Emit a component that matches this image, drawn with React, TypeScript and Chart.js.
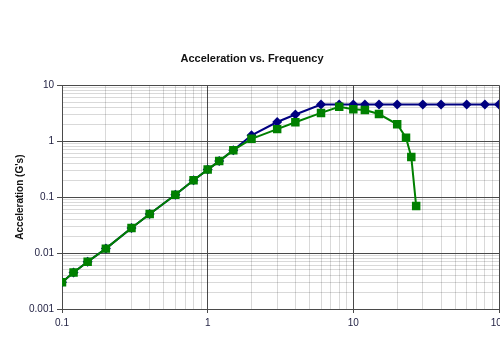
import React, { useEffect, useRef } from 'react';
import { Chart, registerables } from 'chart.js';

Chart.register(...registerables);

const blueFreq = [0.1, 0.12, 0.15, 0.2, 0.3, 0.4, 0.6, 0.8, 1, 1.2, 1.5, 2, 3, 4, 6, 8, 10, 12, 15, 20, 30, 40, 60, 80, 100];
const blueAccel = [0.003, 0.0045, 0.007, 0.012, 0.028, 0.05, 0.11, 0.2, 0.31, 0.44, 0.69, 1.27, 2.2, 3.0, 4.5, 4.5, 4.5, 4.5, 4.5, 4.5, 4.5, 4.5, 4.5, 4.5, 4.5];

const greenFreq = [0.1, 0.12, 0.15, 0.2, 0.3, 0.4, 0.6, 0.8, 1, 1.2, 1.5, 2, 3, 4, 6, 8, 10, 12, 15, 20, 23, 25, 27];
const greenAccel = [0.003, 0.0045, 0.007, 0.012, 0.028, 0.05, 0.11, 0.2, 0.31, 0.44, 0.69, 1.1, 1.64, 2.18, 3.2, 4.1, 3.7, 3.6, 3.05, 2.0, 1.15, 0.52, 0.069];

const xTickLabels = ['0.1', '1', '10', '100'];
const yTickLabels = ['0.001', '0.01', '0.1', '1', '10'];
const minorSteps = [1, 2, 3, 4, 5, 6, 7, 8, 9];

const FONT = "'Liberation Sans', Arial, sans-serif";
const CANVAS_W = 505;

function decadeTicks(minExp: number, maxExp: number) {
  const ticks: { value: number; major: boolean }[] = [];
  for (let e = minExp; e < maxExp; e++) {
    for (const m of minorSteps) {
      ticks.push({ value: parseFloat((m * Math.pow(10, e)).toPrecision(6)), major: m === 1 });
    }
  }
  ticks.push({ value: Math.pow(10, maxExp), major: true });
  return ticks;
}

function isDecade(v: number) {
  const l = Math.log10(v);
  return Math.abs(l - Math.round(l)) < 1e-6;
}

const majorColor = '#4a4a4a';
const minorColor = 'rgba(0,0,0,0.15)';

export default function App() {
  const ref = useRef<HTMLCanvasElement | null>(null);

  useEffect(() => {
    if (!ref.current) return;
    const chart = new Chart(ref.current, {
      type: 'scatter',
      data: {
        datasets: [
          {
            label: 'Green',
            data: greenFreq.map((x, i) => ({ x, y: greenAccel[i] })),
            showLine: true,
            borderColor: '#008000',
            backgroundColor: '#008000',
            borderWidth: 2,
            pointStyle: 'rect',
            pointRadius: 6,
            pointBorderWidth: 0,
            order: 0,
          },
          {
            label: 'Blue',
            data: blueFreq.map((x, i) => ({ x, y: blueAccel[i] })),
            showLine: true,
            borderColor: '#000080',
            backgroundColor: '#000080',
            borderWidth: 2,
            pointStyle: 'rectRot',
            pointRadius: 5,
            pointBorderWidth: 0,
            order: 1,
          },
        ],
      },
      options: {
        responsive: false,
        animation: false,
        layout: { padding: { left: 0, right: 1, top: 0, bottom: 0 } },
        plugins: {
          legend: { display: false },
          tooltip: { enabled: false },
          title: {
            display: true,
            text: 'Acceleration vs. Frequency',
            color: '#111',
            font: { family: FONT, size: 11, weight: 'bold' },
            padding: { top: 52, bottom: 20 },
          },
        },
        scales: {
          x: {
            type: 'logarithmic',
            min: 0.1,
            max: 100,
            afterBuildTicks: (s: any) => {
              s.ticks = decadeTicks(-1, 2);
            },
            afterFit: (s: any) => {
              s.paddingLeft = 0;
              s.paddingRight = 0;
              s.height = 41;
            },
            ticks: {
              autoSkip: false,
              maxRotation: 0,
              padding: 4,
              color: '#1e1e40',
              font: { family: FONT, size: 10 },
              callback: (v: any) => {
                const n = Number(v);
                if (!isDecade(n)) return '';
                return xTickLabels[Math.round(Math.log10(n)) + 1];
              },
            },
            grid: {
              color: (c: any) => (c.tick && isDecade(c.tick.value) ? majorColor : minorColor),
              tickColor: (c: any) => (c.tick && isDecade(c.tick.value) ? majorColor : 'rgba(0,0,0,0)'),
              tickLength: 4,
              lineWidth: 1,
            },
            border: { color: majorColor },
          },
          y: {
            type: 'logarithmic',
            min: 0.001,
            max: 10,
            afterBuildTicks: (s: any) => {
              s.ticks = decadeTicks(-3, 1);
            },
            afterFit: (s: any) => {
              s.width = 62;
              s.paddingTop = 0;
              s.paddingBottom = 0;
            },
            ticks: {
              autoSkip: false,
              padding: 3,
              color: '#1e1e40',
              font: { family: FONT, size: 10 },
              callback: (v: any) => {
                const n = Number(v);
                if (!isDecade(n)) return '';
                return yTickLabels[Math.round(Math.log10(n)) + 3];
              },
            },
            title: {
              display: true,
              text: "Acceleration (G's)",
              color: '#111',
              font: { family: FONT, size: 10, weight: 'bold' },
              padding: { top: 14, bottom: 0 },
            },
            grid: {
              color: (c: any) => (c.tick && isDecade(c.tick.value) ? majorColor : minorColor),
              tickColor: (c: any) => (c.tick && isDecade(c.tick.value) ? majorColor : 'rgba(0,0,0,0)'),
              tickLength: 5,
              lineWidth: 1,
            },
            border: { color: majorColor },
          },
        },
      },
    } as any);
    return () => chart.destroy();
  }, []);

  return (
    <div style={{ position: 'fixed', left: 0, top: 0, width: 500, height: 350, overflow: 'hidden', background: '#fff' }}>
      <canvas ref={ref} width={CANVAS_W} height={350} style={{ width: CANVAS_W, height: 350, display: 'block' }} />
    </div>
  );
}
